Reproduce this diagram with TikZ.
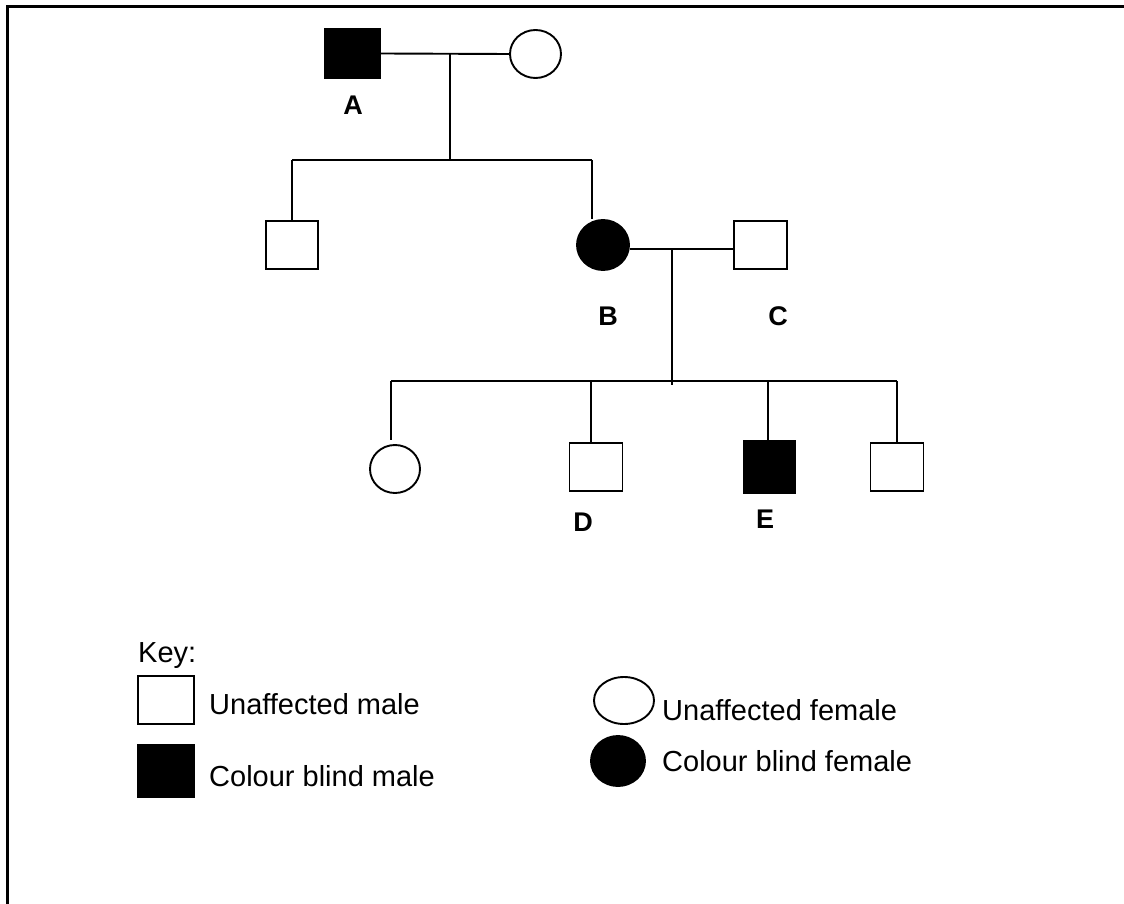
\documentclass[tikz,border=0pt]{standalone}
\usepackage{fontspec}
\setmainfont{Liberation Sans}
\usetikzlibrary{shapes.geometric}
\begin{document}
\begin{tikzpicture}[x=1pt,y=-1pt,
  line/.style={line width=1.9pt},
  male/.style={draw, line width=1.9pt, rectangle, inner sep=0pt, minimum width=53pt, minimum height=49pt},
  female/.style={draw, line width=1.9pt, ellipse, inner sep=0pt, minimum width=51pt, minimum height=48pt},
  aff/.style={fill=black},
  lbl/.style={font=\fontsize{27}{30}\selectfont\bfseries, anchor=base, inner sep=0pt},
  keytxt/.style={font=\fontsize{29}{32}\selectfont, anchor=base west, inner sep=0pt}]
\useasboundingbox (0,0) rectangle (1124,904);
% frame
\draw[line width=3pt] (7,904) -- (7,7) -- (1124,7);

% generation I
\node[male, aff, minimum width=55pt] (A) at (352.5,53.5) {};
\node[female] (F1) at (535.5,54) {};
\node[lbl] (lA) at (353,115) {A};
\coordinate (m1) at (450,54);
\coordinate (s1) at (450,160);
\coordinate (l1) at (292,160);
\coordinate (r1) at (592,160);
\draw[line] (A.east) -- (F1.west);
\draw[line] (m1) -- (s1);
\draw[line] (l1) -- (r1);

% generation II
\node[male, minimum width=52pt, minimum height=48pt] (S1) at (292,245) {};
\node[female, aff, minimum width=52pt, minimum height=50pt] (B) at (603,245) {};
\node[male, minimum width=53pt, minimum height=48pt] (C) at (760.5,245) {};
\node[lbl] (lB) at (608,325) {B};
\node[lbl] (lC) at (778,325) {C};
\draw[line] (l1) -- (S1.north);
\draw[line] (r1) -- (r1 |- B.north);
\coordinate (m2) at (672,249);
\coordinate (s2) at (672,385);
\draw[line] (B.east |- m2) -- (C.west |- m2);
\draw[line] (m2) -- (s2);

% generation III
\coordinate (l2) at (391,381);
\coordinate (r2) at (897,381);
\draw[line] (l2) -- (r2);
\node[female, minimum width=50pt, minimum height=48pt] (G) at (395,469) {};
\node[male, minimum width=53pt, minimum height=48pt] (D) at (596,467) {};
\node[male, aff, minimum width=52pt, minimum height=52pt] (E) at (769.5,467) {};
\node[male, minimum width=53pt, minimum height=48pt] (H) at (897,467) {};
\node[lbl] (lD) at (583,531) {D};
\node[lbl] (lE) at (765,528) {E};
\coordinate (cG) at (391,381);
\coordinate (cD) at (591,381);
\coordinate (cE) at (768,381);
\coordinate (cH) at (897,381);
\draw[line] (cG) -- (391,440);
\draw[line] (cD) -- (cD |- D.north);
\draw[line] (cE) -- (cE |- E.north);
\draw[line] (cH) -- (H.north);

% key
\node[keytxt] (key) at (138,662) {Key:};
\node[male, minimum width=56pt, minimum height=48pt] (k1) at (166,700) {};
\node[male, aff, minimum width=56pt, minimum height=52pt] (k2) at (166,771) {};
\node[female, minimum width=60pt, minimum height=47pt] (k3) at (624,700.5) {};
\node[female, aff, minimum width=54pt, minimum height=50pt] (k4) at (618,761) {};
\node[keytxt] (t1) at (209,714) {Unaffected male};
\node[keytxt] (t2) at (209,786) {Colour blind male};
\node[keytxt] (t3) at (662,720) {Unaffected female};
\node[keytxt] (t4) at (662,771) {Colour blind female};
\end{tikzpicture}
\end{document}
